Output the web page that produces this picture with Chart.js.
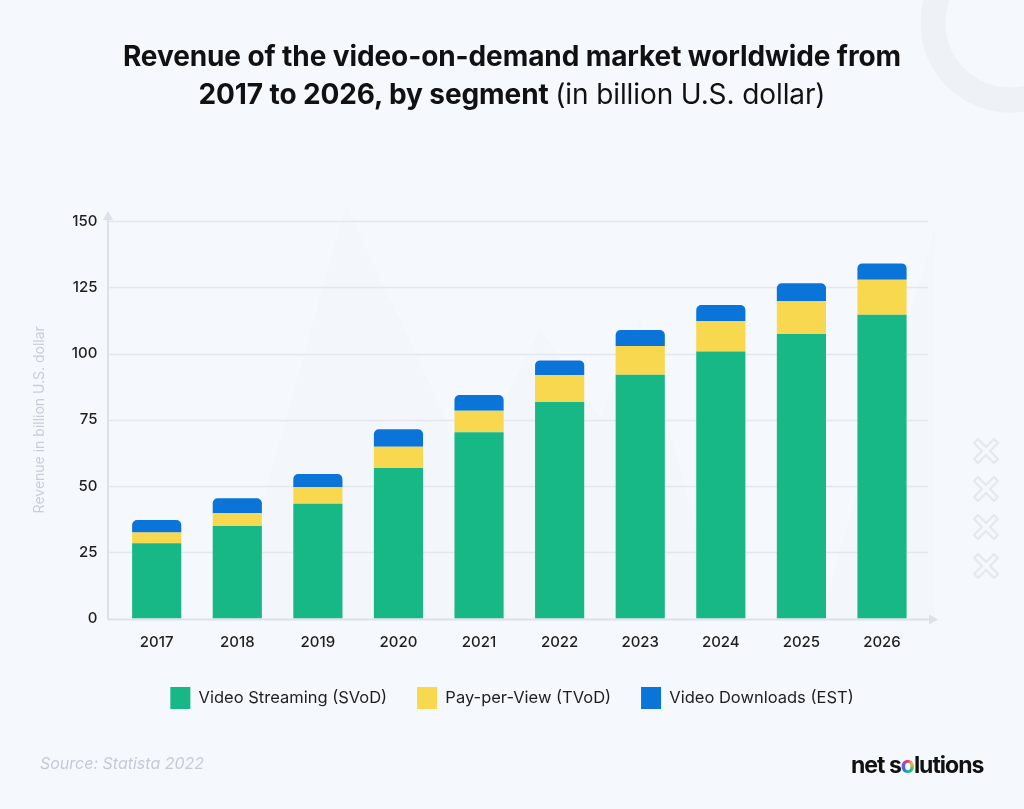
<!DOCTYPE html>
<html>
<head>
<meta charset="utf-8">
<script src="https://cdn.jsdelivr.net/npm/chart.js@4.4.1/dist/chart.umd.min.js"></script>
<style>
html,body{margin:0;padding:0;background:#f5f8fc;}
body{width:1024px;height:809px;position:relative;overflow:hidden;font-family:Inter,"Open Sans",sans-serif;}
#deco{position:absolute;left:0;top:0;}
#c{position:absolute;left:0;top:0;}
#title{position:absolute;top:37px;left:0;width:1024px;text-align:center;font-size:28px;line-height:38px;color:#111;font-weight:700;letter-spacing:-0.1px;}
#title .light{font-weight:400;}
#source{position:absolute;left:40px;top:753px;font-size:16px;font-style:italic;color:#c5cad6;}
#logo{position:absolute;left:851px;top:751px;font-size:23px;font-weight:700;color:#111;letter-spacing:-1px;}
#logo .o{background:conic-gradient(#e63b5f,#f7b733,#22c08a,#1e7ae0,#8a4fe0,#e63b5f);-webkit-background-clip:text;background-clip:text;color:transparent;}
</style>
</head>
<body>
<svg id="deco" width="1024" height="809">
  <polygon points="230,619 346,205 470,470 540,330 600,420 640,320 720,619" fill="#f1f4f9" opacity="0.55"/>
  <polygon points="820,619 935,230 935,619" fill="#f1f4f9" opacity="0.55"/>
  <circle cx="1010" cy="23" r="77" fill="none" stroke="#eef1f6" stroke-width="25"/>
  <g fill="none" stroke="#e6e9ef" stroke-width="2.2" stroke-linejoin="round">
    <path d="M978,439 l8,8 l8,-8 l4,4 l-8,8 l8,8 l-4,4 l-8,-8 l-8,8 l-4,-4 l8,-8 l-8,-8 z"/>
    <path d="M978,477 l8,8 l8,-8 l4,4 l-8,8 l8,8 l-4,4 l-8,-8 l-8,8 l-4,-4 l8,-8 l-8,-8 z"/>
    <path d="M978,515 l8,8 l8,-8 l4,4 l-8,8 l8,8 l-4,4 l-8,-8 l-8,8 l-4,-4 l8,-8 l-8,-8 z"/>
    <path d="M978,554 l8,8 l8,-8 l4,4 l-8,8 l8,8 l-4,4 l-8,-8 l-8,8 l-4,-4 l8,-8 l-8,-8 z"/>
  </g>
</svg>
<canvas id="c" width="1024" height="809"></canvas>
<div id="title">Revenue of the video-on-demand market worldwide from<br>2017 to 2026, by segment <span class="light">(in billion U.S. dollar)</span></div>
<div id="source">Source: Statista 2022</div>
<div id="logo">net s<span class="o">o</span>lutions</div>
<script>
const years = ['2017','2018','2019','2020','2021','2022','2023','2024','2025','2026'];
const seriesNames = ['Video Streaming (SVoD)','Pay-per-View (TVoD)','Video Downloads (EST)'];
const svod = [28.4, 34.9, 43.3, 56.8, 70.3, 81.7, 92.0, 100.8, 107.4, 114.6];
const tvod = [4.1, 4.8, 6.2, 8.0, 8.1, 10.2, 10.8, 11.4, 12.4, 13.2];
const est  = [4.7, 5.7, 5.0, 6.6, 5.9, 5.5, 6.1, 6.1, 6.7, 6.2];
const yTicks = [0, 25, 50, 75, 100, 125, 150];
const yAxisTitle = 'Revenue in billion U.S. dollar';

const colors = ['#17b886', '#f8d84f', '#0a74d9'];
const FONT = 'Inter, "Open Sans", sans-serif';

const axisDeco = {
  id: 'axisDeco',
  beforeDatasetsDraw(chart) {
    const {ctx, scales: {y}} = chart;
    const x0 = 108, x1 = 928;
    const yb = Math.round(y.getPixelForValue(0)) + 0.5;
    const yt = y.getPixelForValue(yTicks[yTicks.length - 1]);
    ctx.save();
    ctx.strokeStyle = '#e3e7ee';
    ctx.lineWidth = 1.5;
    yTicks.forEach(v => {
      if (v === 0) return;
      const py = Math.round(y.getPixelForValue(v)) + 0.5;
      ctx.beginPath(); ctx.moveTo(x0, py); ctx.lineTo(x1, py); ctx.stroke();
    });
    ctx.strokeStyle = '#dde1e9';
    ctx.fillStyle = '#dde1e9';
    ctx.lineWidth = 2;
    ctx.beginPath(); ctx.moveTo(x0, yb); ctx.lineTo(x0, yt - 2); ctx.stroke();
    ctx.beginPath(); ctx.moveTo(x0, yb); ctx.lineTo(x1 + 2, yb); ctx.stroke();
    ctx.beginPath(); ctx.moveTo(x0 - 5, yt - 1); ctx.lineTo(x0 + 5, yt - 1); ctx.lineTo(x0, yt - 10); ctx.closePath(); ctx.fill();
    ctx.beginPath(); ctx.moveTo(x1 + 1, yb - 5); ctx.lineTo(x1 + 1, yb + 5); ctx.lineTo(x1 + 10, yb); ctx.closePath(); ctx.fill();
    ctx.restore();
  }
};

new Chart(document.getElementById('c'), {
  type: 'bar',
  data: {
    labels: years,
    datasets: [
      {label: seriesNames[0], data: svod, backgroundColor: colors[0], borderRadius: 0},
      {label: seriesNames[1], data: tvod, backgroundColor: colors[1], borderRadius: 0},
      {label: seriesNames[2], data: est, backgroundColor: colors[2],
       borderRadius: {topLeft: 5, topRight: 5, bottomLeft: 0, bottomRight: 0}, borderSkipped: false}
    ]
  },
  options: {
    responsive: false,
    animation: false,
    devicePixelRatio: 1,
    layout: {padding: {left: 27.6, right: 27.6, top: 221, bottom: 90}},
    datasets: {bar: {categoryPercentage: 1, barPercentage: 0.61}},
    scales: {
      x: {
        stacked: true,
        grid: {display: false, drawTicks: false},
        border: {display: false},
        ticks: {padding: 15, color: '#1e1e1e', font: {family: FONT, size: 15, weight: '500'}},
        afterFit: s => { s.height = 38.5; }
      },
      y: {
        stacked: true,
        min: 0, max: 150,
        afterBuildTicks: s => { s.ticks = yTicks.map(v => ({value: v})); },
        grid: {display: false, drawTicks: false},
        border: {display: false},
        ticks: {padding: 19, color: '#1e1e1e', font: {family: FONT, size: 15, weight: '500'}},
        title: {display: true, text: yAxisTitle, color: '#c9ceda', font: {family: FONT, size: 14}, padding: {top: 4, bottom: 0}},
        afterFit: s => { s.width = 88.8; }
      },
      yr: {
        type: 'linear', position: 'right', display: true,
        grid: {display: false, drawTicks: false},
        border: {display: false},
        ticks: {display: false},
        afterFit: s => { s.width = 74.1; }
      }
    },
    plugins: {
      legend: {
        position: 'bottom',
        labels: {boxWidth: 20, boxHeight: 22, padding: 30, color: '#1e1e1e', font: {family: FONT, size: 16.5}}
      },
      tooltip: {enabled: false}
    }
  },
  plugins: [axisDeco]
});
</script>
</body>
</html>
